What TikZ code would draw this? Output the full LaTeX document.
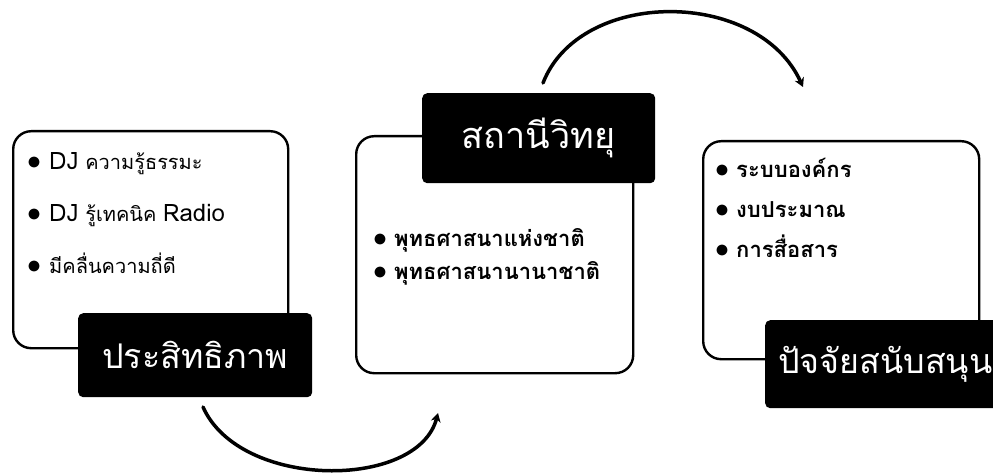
\documentclass[tikz,border=0pt]{standalone}
\usepackage{fontspec}
\newfontfamily\thaifont[Script=Thai]{Loma}
\usetikzlibrary{arrows.meta}

\newcommand{\dotmark}{\raisebox{-0.5pt}{\scalebox{1.35}{$\bullet$}}}
\newcommand{\lat}[1]{{\fontsize{24}{28}\selectfont #1}}

\tikzset{
  frame/.style={draw, line width=2.4pt, rounded corners=18pt, anchor=north west, inner sep=0pt},
  tag/.style={fill=black, text=white, rounded corners=5pt, anchor=north west, inner sep=0pt,
    font=\thaifont\fontsize{34}{40}\selectfont},
  item/.style={anchor=base west, inner sep=0pt, font=\thaifont\fontsize{20}{26}\selectfont},
  smallitem/.style={item, font=\thaifont\bfseries\fontsize{22}{27}\selectfont},
  swirl/.style={line width=3.5pt, line cap=round, -{Stealth[length=9pt,width=10pt]}},
}

\begin{document}
\begin{tikzpicture}[x=1pt, y=-1pt]
\useasboundingbox[fill=white] (0,0) rectangle (993,476);

% the three boxes
\node[frame, minimum width=275pt, minimum height=217pt] (box1) at (12,130) {};
\node[frame, minimum width=277pt, minimum height=237pt] (box2) at (355,135) {};
\node[frame, minimum width=276pt, minimum height=218pt] (box3) at (702,140) {};

% black title tags
\node[tag, minimum width=234pt, minimum height=84pt] (tag1) at (78,313) {ประสิทธิภาพ};
\node[tag, minimum width=233pt, minimum height=90pt] (tag2) at (422,93) {\fontsize{36}{40}\selectfont สถานีวิทยุ};
\node[tag, minimum width=240pt, minimum height=88pt] (tag3) at (765,320) {ปัจจัยสนับสนุน};

% items, box 1
\foreach \txt [count=\i] in {\lat{DJ} ความรู้ธรรมะ, \lat{DJ} รู้เทคนิค \lat{Radio}, มีคลื่นความถี่ดี}
  \node[item] (itemA\i) at (27,{169+(\i-1)*52}) {\dotmark\hspace{8pt}\txt};

% items, box 2
\foreach \txt [count=\i] in {พุทธศาสนาแห่งชาติ, พุทธศาสนานานาชาติ}
  \node[smallitem] (itemB\i) at (373,{246+(\i-1)*33}) {\dotmark\hspace{7pt}\txt};

% items, box 3
\foreach \txt [count=\i] in {ระบบองค์กร, งบประมาณ, การสื่อสาร}
  \node[smallitem] (itemC\i) at (715,{177+(\i-1)*40}) {\dotmark\hspace{7pt}\txt};

% curved arrows between the boxes
\coordinate (lowstart) at (203,407);
\coordinate (lowend) at (438,413);
\coordinate (topstart) at (543,83);
\coordinate (topend) at (803,87);
\draw[swirl] (lowstart) .. controls (240,490) and (418,490) .. (lowend);
\draw[swirl] (topstart) .. controls (580,-12) and (758,-12) .. (topend);

\end{tikzpicture}
\end{document}
